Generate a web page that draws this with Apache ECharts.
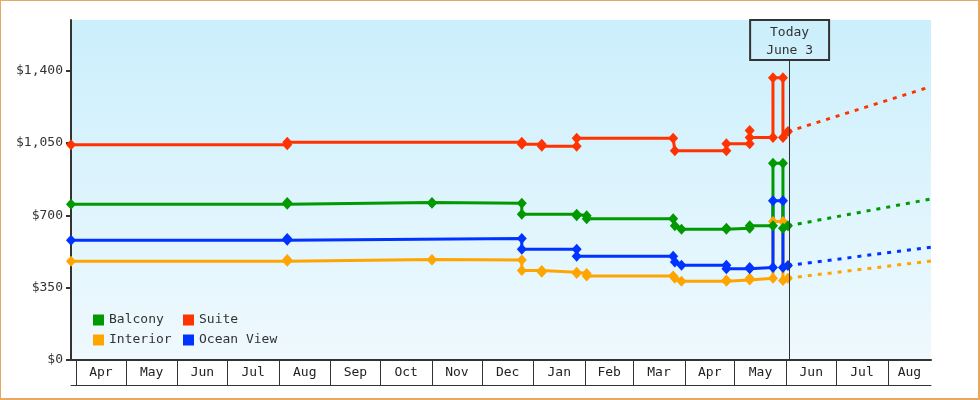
<!DOCTYPE html>
<html>
<head>
<meta charset="utf-8">
<script src="https://cdn.jsdelivr.net/npm/echarts@6/dist/echarts.min.js"></script>
<style>
  html, body { margin: 0; padding: 0; background: #fff; }
  #chart { position: absolute; left: 0; top: 0; width: 980px; height: 400px; }
  #frame { position: absolute; left: 0; top: 0; width: 980px; height: 400px; box-sizing: border-box;
           border: solid #E8A862; border-width: 1px 2px 2px 1px; pointer-events: none; }
</style>
</head>
<body>
<div id="chart"></div>
<div id="frame"></div>
<script>
/* Cabin price history with projected prices */

const FONT = "'DejaVu Sans Mono', monospace";
const TEXT = '#333';

const X_MIN = '2023-03-29';
const X_MAX = '2024-08-27';
const TODAY = '2024-06-03';
const TODAY_LABEL = 'Today\nJune 3';

const monthStarts = ['2023-04-01', '2023-05-01', '2023-06-01', '2023-07-01', '2023-08-01', '2023-09-01',
  '2023-10-01', '2023-11-01', '2023-12-01', '2024-01-01', '2024-02-01', '2024-03-01', '2024-04-01',
  '2024-05-01', '2024-06-01', '2024-07-01', '2024-08-01'];
const monthNames = ['Jan', 'Feb', 'Mar', 'Apr', 'May', 'Jun', 'Jul', 'Aug', 'Sep', 'Oct', 'Nov', 'Dec'];
const yTicks = [0, 350, 700, 1050, 1400];
const Y_MAX = 1645;

// recorded prices (both old and new value at each change date)
const suite = [
  ['2023-03-29', 1041], ['2023-08-06', 1041], ['2023-08-06', 1054], ['2023-12-25', 1054], ['2023-12-25', 1044],
  ['2024-01-06', 1044], ['2024-01-06', 1034], ['2024-01-27', 1034], ['2024-01-27', 1073], ['2024-03-25', 1073],
  ['2024-03-26', 1013], ['2024-04-26', 1013], ['2024-04-26', 1046], ['2024-05-10', 1046], ['2024-05-10', 1110],
  ['2024-05-10', 1076], ['2024-05-24', 1076], ['2024-05-24', 1365], ['2024-05-30', 1365], ['2024-05-30', 1076],
  ['2024-06-02', 1105]
];
const balcony = [
  ['2023-03-29', 754], ['2023-08-06', 754], ['2023-08-06', 762], ['2023-11-01', 762], ['2023-11-01', 758],
  ['2023-12-25', 758], ['2023-12-25', 705], ['2024-01-27', 705], ['2024-01-27', 698], ['2024-02-02', 698],
  ['2024-02-02', 683], ['2024-03-25', 683], ['2024-03-26', 650], ['2024-03-30', 633], ['2024-04-26', 633],
  ['2024-04-26', 638], ['2024-05-10', 638], ['2024-05-10', 649], ['2024-05-24', 649], ['2024-05-24', 952],
  ['2024-05-30', 952], ['2024-05-30', 638], ['2024-06-02', 649]
];
const oceanView = [
  ['2023-03-29', 579], ['2023-08-06', 579], ['2023-08-06', 588], ['2023-12-25', 588], ['2023-12-25', 536],
  ['2024-01-27', 536], ['2024-01-27', 502], ['2024-03-25', 502], ['2024-03-26', 474], ['2024-03-30', 458],
  ['2024-04-26', 458], ['2024-04-26', 442], ['2024-05-10', 442], ['2024-05-10', 448], ['2024-05-24', 448],
  ['2024-05-24', 771], ['2024-05-30', 771], ['2024-05-30', 448], ['2024-06-02', 457]
];
const interior = [
  ['2023-03-29', 478], ['2023-08-06', 478], ['2023-08-06', 486], ['2023-11-01', 486], ['2023-11-01', 484],
  ['2023-12-25', 484], ['2023-12-25', 433], ['2024-01-06', 433], ['2024-01-06', 425], ['2024-01-27', 425],
  ['2024-01-27', 419], ['2024-02-02', 419], ['2024-02-02', 407], ['2024-03-25', 407], ['2024-03-26', 395],
  ['2024-03-30', 381], ['2024-04-26', 381], ['2024-04-26', 387], ['2024-05-10', 387], ['2024-05-10', 395],
  ['2024-05-24', 395], ['2024-05-24', 670], ['2024-05-30', 670], ['2024-05-30', 385], ['2024-06-02', 396]
];

// projected prices
const suiteForecast = [['2024-06-02', 1105], ['2024-08-27', 1323]];
const balconyForecast = [['2024-06-02', 649], ['2024-08-27', 779]];
const oceanViewForecast = [['2024-06-02', 457], ['2024-08-27', 546]];
const interiorForecast = [['2024-06-02', 396], ['2024-08-27', 479]];

const COLORS = { Balcony: '#009900', Suite: '#FF3300', Interior: '#FFA500', 'Ocean View': '#0033FF' };

function ts(s) {
  const [y, m, d] = s.split('-').map(Number);
  return new Date(y, m - 1, d).getTime();
}

// month labels sit in the middle of the visible part of each month
const monthTickValues = monthStarts.map(ts);
const monthLabelValues = monthTickValues.map((t, i) => {
  const end = i + 1 < monthTickValues.length ? monthTickValues[i + 1] : ts(X_MAX);
  return (t + Math.min(end, ts(X_MAX))) / 2;
});

const chart = echarts.init(document.getElementById('chart'), null, { renderer: 'canvas' });

function historySeries(name, data) {
  return {
    name, type: 'line', data,
    symbol: 'diamond', symbolSize: [10, 11], showAllSymbol: true,
    itemStyle: { color: COLORS[name] },
    lineStyle: { width: 3, color: COLORS[name] },
    animation: false
  };
}
function forecastSeries(name, data) {
  return {
    name, type: 'line', data, showSymbol: false,
    itemStyle: { color: COLORS[name] },
    lineStyle: { width: 3, color: COLORS[name], type: [4, 6] },
    animation: false
  };
}

const suiteLine = historySeries('Suite', suite);
suiteLine.markLine = {
  silent: true,
  symbol: 'none',
  animation: false,
  lineStyle: { color: TEXT, width: 1, type: 'solid' },
  label: {
    show: true,
    position: 'end',
    distance: 0,
    formatter: TODAY_LABEL,
    fontFamily: FONT, fontSize: 13, color: TEXT,
    lineHeight: 18,
    padding: [4, 16, 0, 16],
    borderColor: TEXT, borderWidth: 1,
    backgroundColor: 'transparent'
  },
  data: [[{ coord: [TODAY, 0] }, { coord: [TODAY, 1451] }]]
};

const legendCommon = {
  orient: 'vertical',
  icon: 'rect',
  padding: 0,
  itemWidth: 11, itemHeight: 11,
  itemGap: 6,
  selectedMode: false,
  textStyle: { fontFamily: FONT, fontSize: 13, color: TEXT, lineHeight: 14 }
};

const option = {
  backgroundColor: '#fff',
  textStyle: { fontFamily: FONT },
  grid: {
    left: 71, right: 49, top: 20, bottom: 40,
    show: true, borderWidth: 0,
    backgroundColor: new echarts.graphic.LinearGradient(0, 0, 0, 1, [
      { offset: 0, color: '#CBEFFC' },
      { offset: 1, color: '#EFF9FE' }
    ])
  },
  legend: [
    Object.assign({ left: 93, top: 313, data: ['Balcony', 'Interior'] }, legendCommon),
    Object.assign({ left: 183, top: 313, data: ['Suite', 'Ocean View'] }, legendCommon)
  ],
  xAxis: [
    {
      // data axis
      type: 'time', min: X_MIN, max: X_MAX,
      axisLine: { show: false }, axisTick: { show: false }, axisLabel: { show: false },
      splitLine: { show: false }
    },
    {
      // month boxes
      type: 'value', min: ts(X_MIN), max: ts(X_MAX), position: 'bottom',
      axisLine: { show: true, lineStyle: { color: TEXT, width: 2 } },
      axisTick: { show: true, customValues: monthTickValues, length: 25, lineStyle: { color: TEXT, width: 1 } },
      axisLabel: {
        customValues: monthLabelValues,
        formatter: v => monthNames[new Date(v).getMonth()],
        margin: 6, fontFamily: FONT, fontSize: 13, color: '#222', hideOverlap: false
      },
      splitLine: { show: false }
    },
    {
      type: 'value', min: ts(X_MIN), max: ts(X_MAX), position: 'bottom', offset: 25,
      axisLine: { show: true, lineStyle: { color: TEXT, width: 1 } },
      axisTick: { show: false }, axisLabel: { show: false }, splitLine: { show: false }
    }
  ],
  yAxis: {
    type: 'value', min: 0, max: Y_MAX, interval: 350,
    axisLine: { show: true, lineStyle: { color: TEXT, width: 2 } },
    axisTick: { show: true, customValues: yTicks, length: 5, lineStyle: { color: TEXT, width: 2 } },
    axisLabel: {
      customValues: yTicks,
      formatter: v => '$' + v.toLocaleString('en-US'),
      margin: 8, fontFamily: FONT, fontSize: 13, color: TEXT
    },
    splitLine: { show: false }
  },
  series: [
    forecastSeries('Interior', interiorForecast),
    forecastSeries('Ocean View', oceanViewForecast),
    forecastSeries('Balcony', balconyForecast),
    forecastSeries('Suite', suiteForecast),
    historySeries('Interior', interior),
    historySeries('Ocean View', oceanView),
    historySeries('Balcony', balcony),
    suiteLine
  ]
};

chart.setOption(option);
window.addEventListener('resize', () => chart.resize());
</script>
</body>
</html>
